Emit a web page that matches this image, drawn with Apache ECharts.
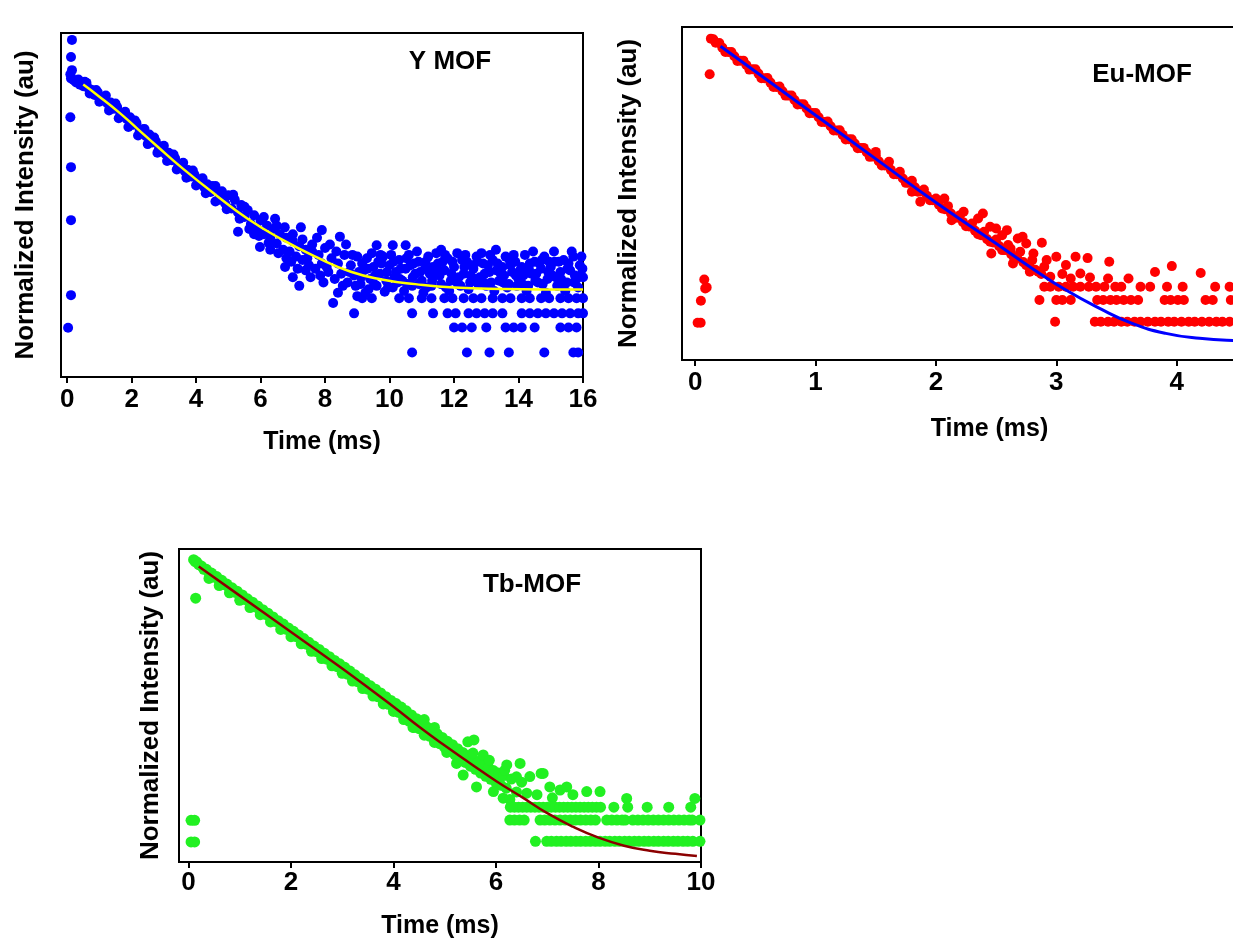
<!DOCTYPE html>
<html>
<head>
<meta charset="utf-8">
<script src="https://cdn.jsdelivr.net/npm/echarts@6/dist/echarts.min.js"></script>
<style>
  html, body { margin: 0; padding: 0; background: #fff; }
  #chart { width: 1233px; height: 944px; }
</style>
</head>
<body>
<div id="chart"></div>
<script>
// values; intensity is in arbitrary units (0-100 of the frame height)

// ---- Y MOF ----
const yMofStart = [[0.15, 98], [0.12, 93], [0.15, 89.2], [0.1, 88], [0.12, 86.8], [0.18, 86.5], [0.22, 86.2], [0.28, 85.6],
  [0.1, 75.5], [0.12, 61], [0.12, 45.6], [0.12, 23.8], [0.03, 14.3]]
const yMofBand = [[0.35, 86.5], [0.4, 85], [0.5, 84.5], [0.55, 85.8], [0.65, 84], [0.75, 83.5], [0.85, 82], [0.95, 82.8],
  [1.05, 80.8], [1.15, 81], [1.25, 79.5], [1.35, 79.8], [1.45, 78], [1.55, 78.5], [1.65, 76.5], [1.75, 76.8], [1.85, 75],
  [1.95, 75.5], [2.05, 73.3], [2.15, 73.8], [2.25, 71.5], [2.35, 72], [2.45, 70], [2.55, 70.5], [2.65, 68.2], [2.75, 68.5],
  [2.85, 66.5], [2.95, 67], [3.05, 64.8], [3.15, 65.2], [3.25, 63], [3.35, 63.6], [3.45, 61.5], [3.55, 62], [3.65, 59.8],
  [3.75, 60.2], [3.85, 58.3], [3.95, 58.8], [4.05, 56.8], [4.15, 57.5], [4.25, 55.2], [4.35, 56], [4.45, 53.8], [4.55, 54.5],
  [0.6, 85.5], [0.7, 82.4], [0.9, 83.4], [1.0, 80], [1.2, 81.8], [1.3, 77.5], [1.5, 79.5], [1.6, 75.2], [1.8, 77.1],
  [1.9, 72.7], [2.1, 74.6], [2.2, 70.2], [2.4, 72.1], [2.5, 67.7], [2.7, 69.6], [2.8, 65.2], [3.0, 67.2], [3.1, 62.8],
  [3.3, 64.7], [3.4, 60.3], [3.6, 62.3], [3.7, 57.9], [3.9, 60], [4.0, 55.7], [4.2, 57.8], [4.3, 53.4], [4.5, 55.5], [4.6, 51],
  [4.6, 55.5], [4.7, 51.5], [4.8, 54], [4.9, 50.5], [5.0, 52.8], [5.1, 49], [5.2, 51.5], [5.3, 47.8], [5.3, 42.2], [5.4, 50],
  [5.5, 46.5], [5.5, 49.5], [5.6, 48.5], [5.7, 44.5], [5.8, 47], [5.8, 41.5], [5.9, 43], [6.0, 45.5], [5.98, 37.8], [6.1, 41.5],
  [6.1, 46.5], [6.2, 44], [6.3, 40.5], [6.3, 37], [6.4, 43], [6.5, 38.8], [6.5, 44], [6.6, 41.5], [6.7, 37], [6.8, 40.5],
  [6.8, 34.5], [6.76, 32], [7.0, 29], [6.9, 36.5], [7.0, 39.5], [7.0, 41.5], [7.1, 35], [7.2, 38], [7.3, 34], [7.3, 40],
  [7.4, 37], [7.4, 31], [7.5, 32.5], [7.6, 36.5], [7.6, 38.5], [7.7, 31.5], [7.8, 35.5], [7.85, 29.5], [7.9, 42.7], [7.9, 33],
  [8.0, 37.5], [8.1, 30.5], [8.15, 38.5], [8.2, 34.5], [8.25, 21.5], [8.3, 28.5], [8.4, 33], [8.46, 40.8], [8.5, 30],
  [8.6, 35.5], [8.7, 27.5], [8.8, 32.5], [8.9, 29.5], [9.0, 35], [9.0, 23.5],
  [4.75, 52.5], [4.95, 48.8], [5.15, 53], [5.35, 46], [5.65, 43], [5.95, 41], [6.25, 39], [6.45, 46], [6.55, 36], [6.75, 43.5],
  [6.95, 33.5], [7.15, 31.5], [7.25, 43.5], [7.45, 34.5], [7.55, 29], [7.75, 40.5], [7.95, 27.5], [8.05, 32], [8.35, 36.5],
  [8.55, 26.5], [8.65, 38.5], [8.75, 30.5], [8.85, 35.5], [8.95, 26.5], [8.4, 24.5], [7.2, 26.5]]
const yMofTail = [[9.1, 27], [9.2, 31], [9.3, 34.5], [9.4, 28.5], [9.5, 32], [9.6, 38.3], [9.6, 26.5], [9.7, 30], [9.8, 35],
  [9.9, 28], [10.0, 32.5], [10.1, 38.3], [10.1, 26], [10.2, 30.5], [10.3, 34], [10.4, 28], [10.5, 38.3], [10.5, 31.5],
  [10.6, 35.5], [10.7, 26.5], [10.8, 30], [10.9, 33.5], [11.0, 28], [11.1, 31.5], [11.2, 35], [11.3, 26.5], [11.4, 29.5],
  [11.5, 33], [11.6, 37], [11.6, 27], [11.7, 31], [11.8, 34.5], [11.9, 28], [12.0, 32], [12.1, 36], [12.2, 26.5], [12.3, 30],
  [12.4, 33.5], [12.5, 27.5], [12.6, 31.5], [12.7, 35], [12.8, 29], [12.9, 33], [13.0, 26.5], [13.1, 30.5], [13.2, 34],
  [13.3, 37], [13.4, 28], [13.5, 32], [13.6, 35], [13.7, 27], [13.8, 30.5], [13.9, 33.5], [14.0, 28.5], [14.1, 32],
  [14.2, 35.5], [14.3, 26.5], [14.4, 30], [14.5, 33.5], [14.6, 27.5], [14.7, 31.5], [14.8, 35], [14.9, 28.5], [15.0, 32],
  [15.1, 36.5], [15.2, 26.5], [15.3, 30.5], [15.4, 34], [15.5, 27.5], [15.6, 31], [15.7, 35], [15.8, 28.5], [15.9, 32.5],
  [16.0, 29], [9.15, 33], [9.35, 25.5], [9.55, 29.5], [9.75, 33], [9.95, 26], [10.15, 29], [10.35, 31.5], [10.55, 27],
  [10.75, 33], [10.95, 30.5], [11.15, 26], [11.35, 32], [11.55, 29.5], [11.75, 26], [11.95, 33.5], [12.15, 29], [12.35, 35.5],
  [12.55, 32.5], [12.75, 27], [12.95, 30], [13.15, 27.5], [13.35, 33], [13.55, 29.5], [13.75, 32.5], [13.95, 26.5],
  [14.15, 29.5], [14.35, 33], [14.55, 30], [14.75, 27], [14.95, 33.5], [15.15, 29], [15.35, 27], [15.55, 33], [15.75, 29.5],
  [15.95, 35],
  [9.05, 30.5], [9.25, 24.5], [9.45, 36], [9.65, 33.5], [9.85, 24.8], [10.05, 35.5], [10.25, 27.5], [10.45, 25], [10.65, 32.5],
  [10.85, 36.5], [11.05, 24.5], [11.25, 30], [11.45, 36], [11.65, 33.5], [11.85, 25], [12.05, 28.5], [12.25, 34], [12.45, 25.5],
  [12.65, 28.5], [12.85, 36], [13.05, 32.5], [13.25, 25], [13.45, 30], [13.65, 26], [13.85, 35.5], [14.05, 31], [14.25, 25],
  [14.45, 36.5], [14.65, 33], [14.85, 24.5], [15.05, 29.5], [15.25, 33.5], [15.45, 25], [15.65, 36.5], [15.85, 26], [15.98, 31.5],
  [9.12, 29], [9.32, 31.5], [9.52, 27], [9.72, 35.5], [9.92, 30.5], [10.12, 33.5], [10.32, 28.5], [10.52, 34.5], [10.72, 29],
  [10.92, 27], [11.12, 33.5], [11.32, 28], [11.52, 31], [11.72, 35.5], [11.92, 30], [12.12, 27], [12.32, 32], [12.52, 29.5],
  [12.72, 33.5], [12.92, 27.5], [13.12, 35.5], [13.32, 31], [13.52, 27.5], [13.72, 34], [13.92, 29.5], [14.12, 27],
  [14.32, 31.5], [14.52, 28], [14.72, 34], [14.92, 30.5], [15.12, 33.5], [15.32, 28.5], [15.52, 31.5], [15.72, 27.5], [15.92, 29.5]]
// quantised low-count levels
const yMofRowLevels = [22.9, 18.5, 14.4, 7.1]
const yMofRowTimes = [
  [9.15, 9.45, 10.3, 10.6, 11.0, 11.3, 11.7, 11.95, 12.3, 12.6, 12.85, 13.2, 13.5, 13.75, 14.1, 14.35, 14.7, 14.95, 15.3, 15.55, 15.8, 16.0],
  [8.9, 10.7, 11.35, 11.8, 12.05, 12.45, 12.7, 12.95, 13.2, 13.5, 14.1, 14.35, 14.6, 14.85, 15.1, 15.35, 15.6, 15.85, 16.0],
  [12.0, 12.25, 12.55, 13.0, 13.6, 13.85, 14.1, 14.5, 15.3, 15.55, 15.8],
  [10.7, 12.4, 13.1, 13.7, 14.8, 15.7, 15.85]
]
const yMofFit = [[0.5, 85], [1.0, 81.5], [1.6, 77], [2.2, 72], [2.8, 67], [3.6, 60.5], [4.6, 53], [5.6, 46], [6.7, 39.8],
  [7.7, 35], [8.8, 30.6], [9.8, 28.3], [10.8, 27], [12, 26], [13.5, 25.6], [16, 25.4]]

// ---- Eu-MOF ----
const euStart = [[0.12, 85.8], [0.075, 24.2], [0.083, 21.5], [0.095, 21.8], [0.047, 17.8], [0.02, 11.2], [0.045, 11.2]]
const euBand = [[0.13, 96.5], [0.15, 96.3], [0.17, 95.3], [0.2, 95.2], [0.25, 92.5], [0.3, 92.5], [0.35, 89.8], [0.4, 89.9],
  [0.45, 87.2], [0.5, 87.3], [0.55, 84.6], [0.6, 84.7], [0.65, 82.0], [0.7, 82.1], [0.75, 79.4], [0.8, 79.4], [0.85, 76.7],
  [0.9, 76.8], [0.95, 74.1], [1.0, 74.2], [1.05, 71.5], [1.1, 71.6], [1.15, 68.9], [1.2, 69.0], [1.25, 66.2], [1.3, 66.3],
  [1.35, 63.6], [1.4, 63.7], [1.45, 61.0], [1.5, 61.5], [1.55, 58.4], [1.6, 58.8], [1.65, 55.8], [1.7, 56.5], [1.75, 53.2],
  [1.8, 53.8], [1.85, 50.5], [1.9, 51.2], [1.95, 48.0], [2.0, 48.5], [2.05, 45.5], [2.1, 46.2], [2.15, 42.8], [2.2, 43.5],
  [2.25, 40.2], [2.3, 41], [2.35, 37.8], [2.4, 38.5], [2.45, 35.5], [2.5, 36.2], [2.55, 33], [2.6, 34.5], [2.65, 30.5],
  [2.7, 32.5], [2.75, 28.5], [2.8, 30], [2.85, 26.5], [2.9, 28],
  [0.225, 93.8], [0.275, 92.5], [0.325, 91.2], [0.375, 89.9], [0.425, 88.6], [0.475, 87.3], [0.525, 86.0], [0.575, 84.6],
  [0.625, 83.3], [0.675, 82.0], [0.725, 80.7], [0.775, 79.4], [0.825, 78.1], [0.875, 76.8], [0.925, 75.5], [0.975, 74.2],
  [1.025, 72.9], [1.075, 71.5], [1.125, 70.2], [1.175, 68.9], [1.225, 67.6], [1.275, 66.3], [1.325, 65.0], [1.375, 63.7],
  [1.425, 62.4], [1.475, 61.1], [1.525, 59.7], [1.575, 58.4], [1.625, 57.1], [1.675, 55.8], [1.725, 54.5], [1.775, 53.2],
  [1.825, 51.9], [1.875, 50.6], [1.925, 49.3], [1.975, 48.0], [2.025, 46.6], [2.075, 45.3], [2.125, 44.0], [2.175, 42.7],
  [2.225, 41.4], [2.275, 40.1], [2.325, 38.8], [2.375, 37.5], [2.425, 36.3], [2.475, 35.3], [2.525, 34.2], [2.575, 33.0],
  [2.625, 31.8], [2.675, 30.6], [2.725, 29.4], [2.775, 28.3], [2.825, 27.1], [2.875, 25.8],
  [1.5, 62.5], [1.61, 59.5], [1.8, 50.5], [1.87, 47.5], [2.07, 48.5], [2.13, 42], [2.23, 44.5], [2.35, 42.5], [2.39, 44],
  [2.46, 32], [2.45, 40], [2.59, 39], [2.55, 37.5], [2.64, 29], [2.68, 36.5], [2.75, 35], [2.81, 32], [2.88, 35.2],
  [2.78, 26.5], [2.5, 39.5], [2.62, 33.5], [2.72, 37]]
const euTail = [[3.0, 31], [3.16, 31], [3.26, 30.6], [3.44, 29.5], [3.82, 26.4], [3.96, 28.2], [4.2, 26.1], [2.95, 25],
  [3.05, 25.8], [3.12, 24.5], [3.2, 26], [3.28, 24.8], [3.43, 24.5], [3.6, 24.5], [2.92, 30], [3.08, 28.5]]
const euRowLevels = [22, 18, 11.5]
const euRowTimes = [
  [2.9, 2.95, 3.02, 3.08, 3.14, 3.2, 3.27, 3.33, 3.4, 3.49, 3.54, 3.7, 3.78, 3.92, 4.05, 4.32, 4.44],
  [2.86, 3.0, 3.05, 3.12, 3.34, 3.39, 3.45, 3.5, 3.56, 3.62, 3.68, 3.9, 3.95, 4.01, 4.06, 4.24, 4.3, 4.45],
  [2.99, 3.32, 3.37, 3.43, 3.48, 3.54, 3.59, 3.65, 3.7, 3.76, 3.82, 3.87, 3.93, 3.98, 4.04, 4.1, 4.15, 4.21, 4.27, 4.33, 4.38, 4.44, 4.5]
]
const euFit = [[0.21, 94.2], [0.6, 84], [1.0, 73.5], [1.5, 60.4], [2.0, 47.3], [2.5, 35], [2.8, 27.5], [3.08, 21], [3.36, 15.5],
  [3.63, 11], [3.91, 8], [4.19, 6.5], [4.5, 5.8], [5.0, 5.3]]

// ---- Tb-MOF ----
const tbStart = [[0.14, 84.3], [0.05, 13.3], [0.12, 13.3], [0.05, 6.4], [0.12, 6.4]]
const tbBand = [[0.1, 96.6], [0.13, 96], [0.16, 95.9], [0.2, 95], [0.25, 94.6], [0.3, 93.5], [0.35, 93.5], [0.4, 92.3],
  [0.45, 92.3], [0.5, 91], [0.55, 91.2], [0.6, 89.8], [0.65, 90], [0.7, 88.6], [0.75, 88.8], [0.8, 87.4], [0.85, 87.6],
  [0.9, 86.2], [0.95, 86.5], [1.0, 85], [1.05, 85.3], [1.1, 83.9], [1.15, 84.1], [1.2, 82.7], [1.25, 83], [1.3, 81.5],
  [1.35, 81.8], [1.4, 80.3], [1.45, 80.6], [1.5, 79.1], [1.55, 79.5], [1.6, 78], [1.65, 78.3], [1.7, 76.8], [1.75, 77.1],
  [1.8, 75.6], [1.85, 76], [1.9, 74.4], [1.95, 74.8], [2.0, 73.2], [2.05, 73.7], [2.1, 72], [2.15, 72.5], [2.2, 70.8],
  [2.25, 71.4], [2.3, 69.6], [2.35, 70.2], [2.4, 68.4], [2.45, 69], [2.5, 67.2], [2.55, 67.9], [2.6, 66], [2.65, 66.7],
  [2.7, 64.8], [2.75, 65.6], [2.8, 63.6], [2.85, 64.4], [2.9, 62.4], [2.95, 63.3], [3.0, 61.2], [3.05, 62.2], [3.1, 60],
  [3.15, 61], [3.2, 58.8], [3.25, 59.8], [3.3, 57.6], [3.35, 58.6], [3.4, 56.4], [3.45, 57.4], [3.5, 55.2], [3.55, 56.3],
  [3.6, 54], [3.65, 55.2], [3.7, 52.8], [3.75, 54], [3.8, 51.6], [3.85, 52.8], [3.9, 50.4], [3.95, 51.6], [4.0, 49],
  [4.05, 50.6], [4.1, 47.8], [4.15, 49.5], [4.2, 46.4], [4.25, 48.3], [4.3, 45], [4.35, 47], [4.4, 44], [4.45, 45.8],
  [4.5, 42.6], [4.55, 44.5], [4.6, 41.4], [4.65, 43.2], [4.7, 40.2], [4.75, 42], [4.8, 39], [4.85, 41], [4.9, 37.8],
  [4.95, 39.8], [5.0, 36.6], [5.05, 38.6], [5.1, 35.4], [5.15, 37.5], [5.2, 34.2], [5.25, 36.2], [5.3, 33], [5.35, 35],
  [5.4, 31.8], [5.45, 34], [5.5, 30.6], [5.55, 33], [5.6, 29.6], [5.65, 32], [5.7, 28.4], [5.75, 31], [5.8, 27.4], [5.85, 30],
  [5.9, 26.4], [5.95, 29.2], [6.0, 25.4], [6.05, 28.4], [6.1, 24.5], [6.15, 27.6], [6.2, 23.6], [6.3, 26.5], [6.4, 22.4],
  [6.5, 25.5],
  [0.4, 90.6], [0.6, 88.3], [0.8, 86], [1.0, 83.6], [1.2, 81.3], [1.4, 79], [1.6, 76.7], [1.8, 74.3], [2.0, 72], [2.2, 69.7],
  [2.4, 67.3], [2.6, 65], [2.8, 62.7], [3.0, 60.3], [3.2, 57.8], [3.4, 55.4], [3.6, 53], [3.8, 50.5], [4.0, 48.1], [4.2, 45.5],
  [4.4, 43], [4.6, 40.5], [4.8, 38.2],
  [4.38, 43], [4.6, 45.5], [4.8, 43], [5.04, 35], [5.23, 31.5], [5.36, 27.8], [5.45, 38.4], [5.55, 34.8], [5.57, 39],
  [5.62, 24], [5.75, 34.2], [5.87, 32.5], [5.95, 22.5], [6.14, 20.4], [6.17, 29.3], [6.21, 31], [6.27, 20], [6.4, 27.2],
  [6.47, 31.5], [6.66, 27.3], [6.88, 28.3], [6.92, 28.3], [7.05, 24], [7.25, 23], [7.38, 24], [7.77, 22.5], [8.03, 22.5],
  [8.55, 20.3], [9.88, 20.3], [6.6, 22], [6.8, 21.5], [7.1, 20.5], [7.5, 21.5]]
const tbRowLevels = [17.5, 13.4, 6.6]
const tbRowTimes = [
  [6.28, 6.36, 6.44, 6.52, 6.6, 6.68, 6.76, 6.84, 6.92, 7.0, 7.08, 7.16, 7.24, 7.32, 7.4, 7.48, 7.56, 7.64, 7.72, 7.8, 7.88,
    7.96, 8.04, 8.3, 8.57, 8.95, 9.37, 9.8],
  [6.27, 6.36, 6.46, 6.55, 6.86, 6.95, 7.05, 7.15, 7.25, 7.35, 7.45, 7.55, 7.65, 7.75, 7.85, 7.94, 8.16, 8.26, 8.36, 8.46,
    8.52, 8.67, 8.77, 8.87, 8.97, 9.07, 9.17, 9.27, 9.37, 9.47, 9.57, 9.67, 9.77, 9.83, 9.98],
  [6.77, 6.99, 7.08, 7.18, 7.27, 7.37, 7.46, 7.56, 7.65, 7.75, 7.84, 7.94, 8.03, 8.13, 8.22, 8.32, 8.41, 8.51, 8.6, 8.7,
    8.79, 8.89, 8.98, 9.08, 9.17, 9.27, 9.36, 9.46, 9.55, 9.65, 9.74, 9.84, 9.98]
]
const tbFit = [[0.2, 94.4], [1.0, 85.1], [2.0, 73.5], [3.0, 61.8], [4.0, 49.6], [4.5, 43.2], [5.0, 37.2], [5.5, 31.5],
  [6.0, 25.9], [6.5, 20.8], [7.0, 15.6], [7.5, 11.3], [8.0, 7.8], [8.5, 5.2], [9.0, 3.6], [9.5, 2.6], [9.92, 1.9]]

const yMofTicks = [0, 2, 4, 6, 8, 10, 12, 14, 16]
const euTicks = [0, 1, 2, 3, 4, 5]
const tbTicks = [0, 2, 4, 6, 8, 10]

const font = 'Liberation Sans, Arial, sans-serif'

function rows(levels, times) {
  const out = []
  levels.forEach((lv, i) => times[i].forEach(t => out.push([t, lv])))
  return out
}

function xAxisFor(gridIndex, min, max, ticks, nameGap, margin) {
  return {
    type: 'value', gridIndex, min, max,
    name: 'Time (ms)', nameLocation: 'middle', nameGap,
    nameTextStyle: { color: '#000', fontSize: 25, fontWeight: 'bold', fontFamily: font },
    axisLine: { show: true, onZero: false, lineStyle: { color: '#000', width: 2 } },
    axisTick: { show: true, customValues: ticks, length: 6, lineStyle: { color: '#000', width: 2 } },
    axisLabel: { customValues: ticks, margin, color: '#000', fontSize: 26, fontWeight: 'bold', fontFamily: font },
    splitLine: { show: false }
  }
}

function yAxisFor(gridIndex, nameGap) {
  return {
    type: 'value', gridIndex, min: 0, max: 100,
    name: 'Normalized Intensity (au)', nameLocation: 'middle', nameRotate: 90, nameGap,
    nameTextStyle: { color: '#000', fontSize: 26, fontWeight: 'bold', fontFamily: font },
    axisLine: { show: true, onZero: false, lineStyle: { color: '#000', width: 2 } },
    axisTick: { show: false },
    axisLabel: { show: false },
    splitLine: { show: false }
  }
}

function dots(idx, data, color, size) {
  return {
    type: 'scatter', xAxisIndex: idx, yAxisIndex: idx, data,
    symbol: 'circle', symbolSize: size, itemStyle: { color, opacity: 1 }, silent: true
  }
}

function fit(idx, data, color, width) {
  return {
    type: 'line', xAxisIndex: idx, yAxisIndex: idx, data, smooth: true, showSymbol: false, z: 5,
    lineStyle: { color, width }, silent: true
  }
}

// frame box; outerBoundsMode none so the Eu panel may run past the right edge
const frame = { show: true, borderColor: '#000', borderWidth: 2, backgroundColor: 'transparent', outerBoundsMode: 'none', containLabel: false }

const chart = echarts.init(document.getElementById('chart'))
const option = {
  animation: false,
  grid: [
    Object.assign({ left: 61, top: 33, width: 522, height: 344 }, frame),
    Object.assign({ left: 682, top: 27, width: 615, height: 333 }, frame),
    Object.assign({ left: 179, top: 549, width: 522, height: 313 }, frame)
  ],
  xAxis: [
    xAxisFor(0, -0.19, 16, yMofTicks, 53, 10),
    xAxisFor(1, -0.11, 5, euTicks, 57, 10),
    xAxisFor(2, -0.185, 10, tbTicks, 52, 8)
  ],
  yAxis: [yAxisFor(0, 22), yAxisFor(1, 40), yAxisFor(2, 15)],
  graphic: [
    { type: 'text', x: 450, y: 62, style: { text: 'Y MOF', font: 'bold 26px ' + font, fill: '#000', textAlign: 'center', textVerticalAlign: 'middle' } },
    { type: 'text', x: 1142, y: 75, style: { text: 'Eu-MOF', font: 'bold 26px ' + font, fill: '#000', textAlign: 'center', textVerticalAlign: 'middle' } },
    { type: 'text', x: 532, y: 585, style: { text: 'Tb-MOF', font: 'bold 26px ' + font, fill: '#000', textAlign: 'center', textVerticalAlign: 'middle' } }
  ],
  series: [
    dots(0, yMofStart.concat(yMofBand, yMofTail, rows(yMofRowLevels, yMofRowTimes)), '#0000ff', 10),
    fit(0, yMofFit, '#ffff00', 2.5),
    dots(1, euStart.concat(euBand, euTail, rows(euRowLevels, euRowTimes)), '#ff0000', 10),
    fit(1, euFit, '#0000ff', 3),
    dots(2, tbStart.concat(tbBand, rows(tbRowLevels, tbRowTimes)), '#22f022', 11),
    fit(2, tbFit, '#8b0000', 2.5)
  ]
}
chart.setOption(option)
</script>
</body>
</html>
